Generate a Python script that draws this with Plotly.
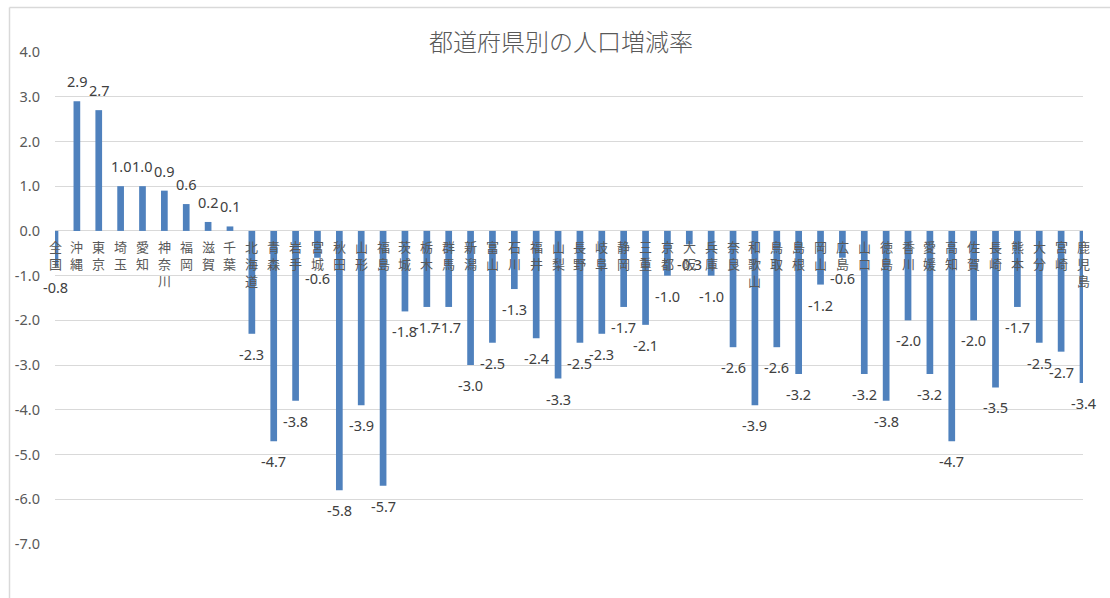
import plotly.graph_objects as go

categories = ["全国", "沖縄", "東京", "埼玉", "愛知", "神奈川", "福岡", "滋賀", "千葉",
              "北海道", "青森", "岩手", "宮城", "秋田", "山形", "福島", "茨城", "栃木",
              "群馬", "新潟", "富山", "石川", "福井", "山梨", "長野", "岐阜", "静岡",
              "三重", "京都", "大阪", "兵庫", "奈良", "和歌山", "鳥取", "島根", "岡山",
              "広島", "山口", "徳島", "香川", "愛媛", "高知", "佐賀", "長崎", "熊本",
              "大分", "宮崎", "鹿児島"]
values = [-0.8, 2.9, 2.7, 1.0, 1.0, 0.9, 0.6, 0.2, 0.1,
          -2.3, -4.7, -3.8, -0.6, -5.8, -3.9, -5.7, -1.8, -1.7,
          -1.7, -3.0, -2.5, -1.3, -2.4, -3.3, -2.5, -2.3, -1.7,
          -2.1, -1.0, -0.3, -1.0, -2.6, -3.9, -2.6, -3.2, -1.2,
          -0.6, -3.2, -3.8, -2.0, -3.2, -4.7, -2.0, -3.5, -1.7,
          -2.5, -2.7, -3.4]
y_tickvals = [4, 3, 2, 1, 0, -1, -2, -3, -4, -5, -6, -7]
y_ticktext = ["4.0", "3.0", "2.0", "1.0", "0.0", "-1.0", "-2.0", "-3.0", "-4.0", "-5.0", "-6.0", "-7.0"]
title_text = "都道府県別の人口増減率"

W, H = 1110, 598
L, R, T, B = 55, 27, 52, 54
pw, ph = W - L - R, H - T - B

def px_x(p):
    return (p - L) / pw

def px_y(p):
    return (H - B - p) / ph

fig = go.Figure()
fig.add_trace(go.Bar(
    x=categories, y=values,
    marker=dict(color="#4f81bd", line=dict(width=0)),
    hoverinfo="x+y",
))

annotations = []
# value labels
for c, v in zip(categories, values):
    annotations.append(dict(
        x=c, y=v, xref="x", yref="y",
        text=f"{v:.1f}", showarrow=False,
        yanchor="middle", xanchor="center",
        yshift=20 if v >= 0 else -20,
        font=dict(family="Noto Sans, Noto Sans CJK JP", size=14.5, color="#404040"),
    ))
# vertical category labels along the zero line
for c in categories:
    annotations.append(dict(
        x=c, y=0, xref="x", yref="y",
        text="<br>".join(list(c)), showarrow=False,
        yanchor="top", xanchor="center", yshift=-4,
        font=dict(family="Noto Sans CJK JP", size=13, color="#595959"),
    ))
# title
annotations.append(dict(
    x=px_x(561), y=px_y(41), xref="paper", yref="paper",
    text=title_text, showarrow=False, xanchor="center", yanchor="middle",
    font=dict(family="Noto Sans CJK JP", size=24, color="#595959", weight=300),
))

shapes = [
    dict(type="line", xref="paper", yref="paper",
         x0=px_x(9.5), x1=px_x(W + 5), y0=px_y(7.5), y1=px_y(7.5),
         line=dict(color="#d9d9d9", width=1.5)),
    dict(type="line", xref="paper", yref="paper",
         x0=px_x(9.5), x1=px_x(9.5), y0=px_y(7.5), y1=px_y(H + 5),
         line=dict(color="#d9d9d9", width=1.5)),
]

fig.update_layout(
    width=W, height=H,
    margin=dict(l=L, r=R, t=T, b=B, pad=0),
    paper_bgcolor="white", plot_bgcolor="white",
    bargap=0.694,
    showlegend=False,
    annotations=annotations,
    shapes=shapes,
    font=dict(family="Noto Sans CJK JP", color="#595959"),
)
fig.update_xaxes(
    type="category", range=[0, len(categories) - 1],
    showticklabels=False, showgrid=False, zeroline=False, showline=False, ticks="",
)
fig.update_yaxes(
    range=[-7, 4], tickvals=y_tickvals, ticktext=y_ticktext,
    showgrid=True, gridcolor="#d9d9d9", gridwidth=1,
    zeroline=True, zerolinecolor="#d9d9d9", zerolinewidth=1,
    showline=False, ticks="", ticklabelstandoff=14,
    tickfont=dict(family="Noto Sans", size=14.5, color="#595959"),
)

fig.write_html("out.html")
